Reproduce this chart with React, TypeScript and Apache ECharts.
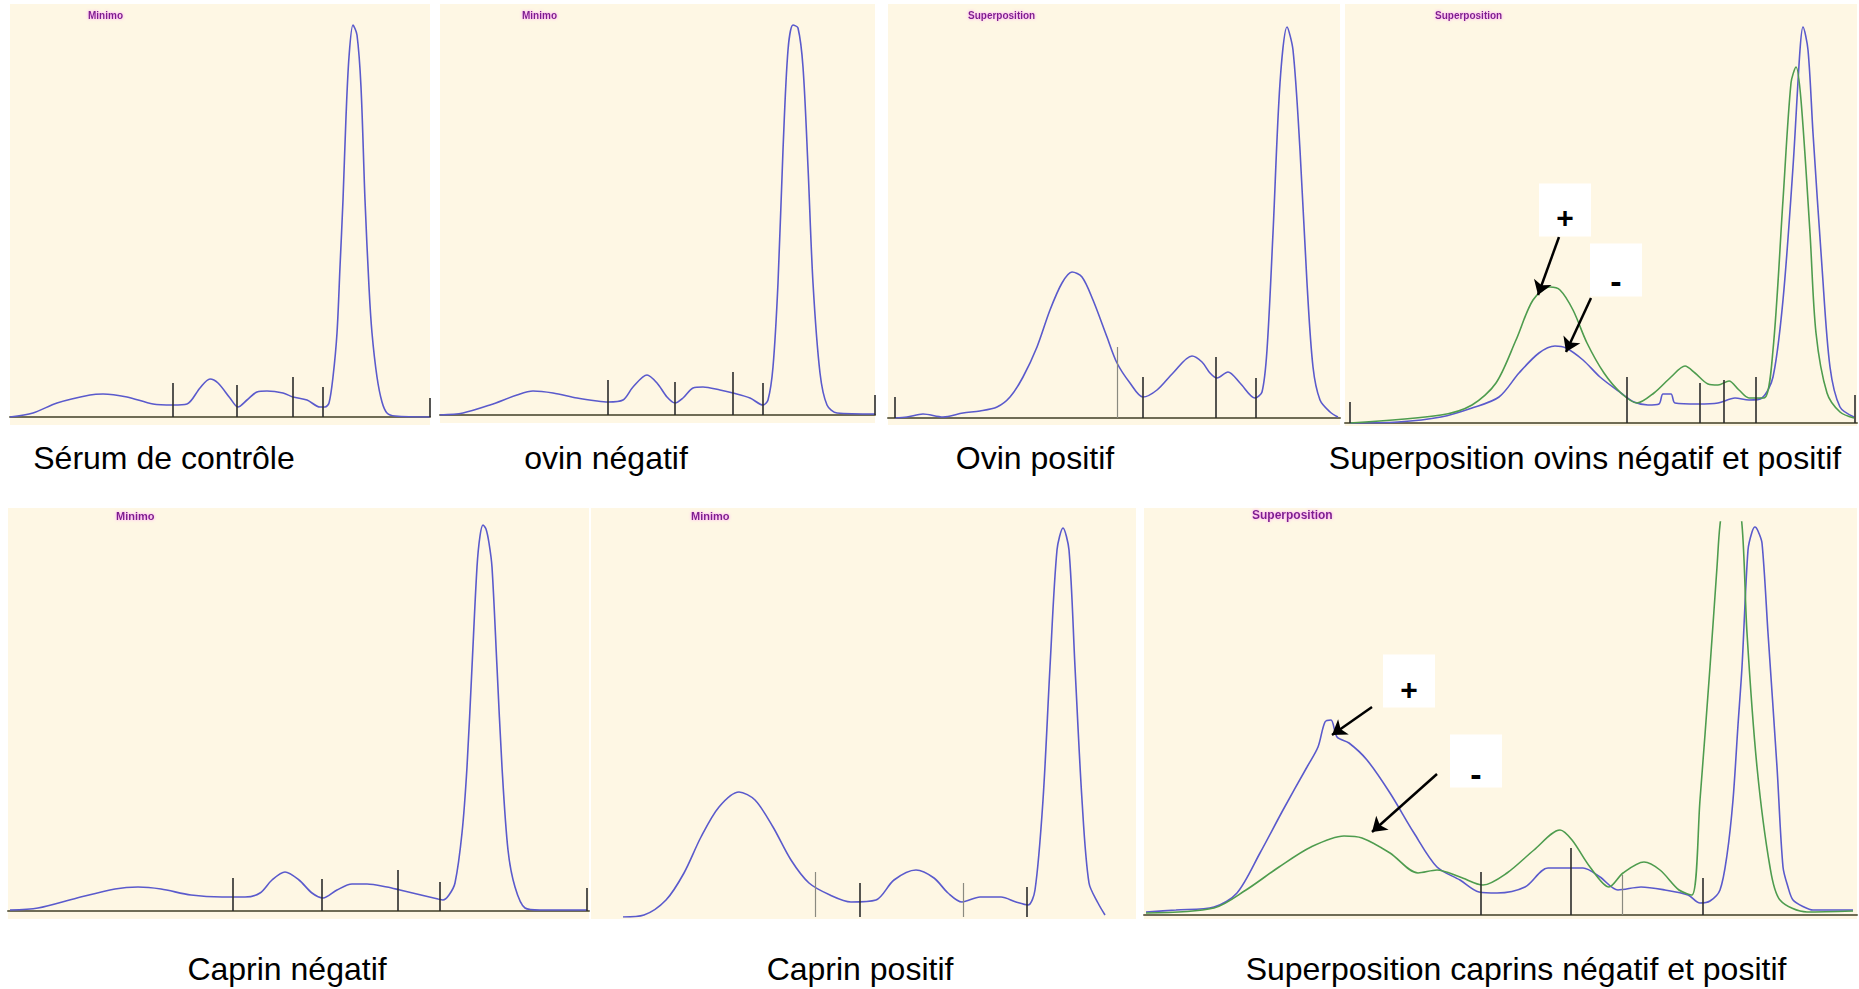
import React, { useEffect, useRef } from "react";
import * as echarts from "echarts";

type Pt = [number, number];

// x: migration (arbitrary units from the left edge of each trace), y: optical density (arbitrary units above baseline)

// Panel 1 – Sérum de contrôle
const p1Curve: Pt[] = [[0,0],[23,4],[47,14],[80,22],[93,23],[117,20],[143,13],[163,12],[177,13],[190,29],[200,38],[208,34],[220,19],[228,10],[237,17],[247,25],[257,26],[273,24],[283,20],[297,17],[310,10],[315,10],[319,14],[323,40],[327,84],[330,150],[333,217],[336,300],[339,360],[343,392],[347,382],[351,330],[355,217],[359,130],[362,84],[367,40],[372,15],[377,4],[385,1],[420,0]];
const p1MarkX = [163, 227, 283, 313, 420];
const p1MarkH = [34, 32, 40, 30, 19];

// Panel 2 – ovin négatif
const p2Curve: Pt[] = [[0,0],[23,2],[50,10],[77,20],[93,24],[113,22],[137,17],[157,14],[168,13],[183,15],[193,28],[207,40],[217,32],[227,18],[235,12],[243,17],[253,27],[263,28],[280,25],[293,22],[310,17],[323,10],[328,15],[333,48],[338,132],[343,265],[348,365],[353,390],[358,387],[363,348],[368,248],[373,132],[380,42],[387,10],[397,2],[435,1]];
const p2MarkX = [168, 235, 293, 323, 435];
const p2MarkH = [35, 33, 43, 32, 20];

// Panel 3 – Ovin positif
const p3Curve: Pt[] = [[7,0],[19,1],[35,4],[55,1],[75,5],[92,7],[109,11],[122,21],[135,41],[149,71],[162,108],[174,135],[184,146],[194,141],[205,118],[219,81],[229,55],[242,35],[255,21],[269,28],[285,45],[304,62],[314,56],[322,45],[329,40],[340,46],[352,35],[367,20],[374,26],[379,68],[385,185],[392,335],[399,391],[405,368],[412,268],[419,135],[425,51],[432,18],[442,6],[450,1]];
const p3MarkX = [229, 255, 328, 368, 7];
const p3MarkH = [71, 41, 61, 40, 21];

// Panel 4 – Superposition ovins négatif (blue) et positif (green)
const p4Neg: Pt[] = [[5,0],[53,1],[96,6],[127,15],[154,26],[174,50],[194,70],[210,77],[221,75],[238,63],[255,46],[276,30],[289,21],[303,18],[314,19],[318,29],[326,29],[330,20],[353,19],[373,20],[390,25],[404,23],[417,25],[428,46],[438,123],[448,256],[455,373],[458,396],[463,373],[468,290],[477,156],[485,56],[495,16],[509,6]];
const p4Pos: Pt[] = [[5,0],[96,8],[127,18],[151,40],[171,83],[188,123],[205,136],[215,133],[228,113],[242,80],[259,50],[276,30],[292,20],[309,30],[326,46],[340,57],[350,50],[363,39],[373,38],[384,42],[394,33],[404,25],[419,25],[428,73],[438,223],[446,340],[451,356],[456,323],[465,190],[471,90],[482,30],[495,11],[509,5]];
const p4MarkX = [282, 355, 379, 411, 5, 510];
const p4MarkH = [46, 40, 43, 46, 21, 28];
const p4PlusBox: Pt = [220, 213];
const p4PlusArrow: [Pt, Pt] = [[214, 186], [193, 128]];
const p4MinusBox: Pt = [271, 153];
const p4MinusArrow: [Pt, Pt] = [[246, 125], [221, 71]];

// Panel 5 – Caprin négatif
const p5Curve: Pt[] = [[2,1],[30,3],[69,13],[107,22],[130,24],[153,22],[183,16],[214,14],[237,14],[252,18],[264,31],[277,39],[291,31],[304,18],[315,13],[329,21],[344,27],[359,27],[379,24],[392,21],[413,16],[430,12],[435,11],[441,16],[447,28],[454,78],[459,144],[464,244],[469,344],[472,375],[475,386],[478,382],[481,368],[484,344],[489,244],[494,144],[500,61],[507,24],[517,3],[532,1],[579,1]];
const p5MarkX = [225, 314, 390, 432, 579];
const p5MarkH = [33, 32, 41, 29, 23];

// Panel 6 – Caprin positif
const p6Curve: Pt[] = [[32,0],[53,2],[75,17],[93,44],[110,80],[128,110],[148,125],[164,117],[182,90],[200,57],[218,34],[239,22],[260,15],[285,17],[303,37],[325,47],[343,39],[357,24],[371,15],[389,20],[410,20],[425,15],[437,12],[444,27],[452,117],[459,250],[466,367],[472,389],[478,367],[484,250],[491,117],[498,34],[507,14],[514,2]];
const p6MarkX = [224, 269, 372, 436];
const p6MarkH = [45, 34, 34, 30];

// Panel 7 – Superposition caprins positif (blue) et négatif (green)
const p7Pos: Pt[] = [[2,3],[32,5],[70,8],[93,22],[116,62],[139,105],[163,148],[174,168],[181,193],[187,195],[193,178],[205,172],[223,155],[246,122],[270,82],[293,48],[316,35],[335,23],[353,22],[381,28],[404,47],[439,47],[456,38],[474,25],[497,28],[521,25],[544,20],[556,12],[566,14],[576,25],[583,60],[589,115],[594,190],[598,248],[604,365],[608,383],[611,388],[614,384],[618,372],[624,282],[633,148],[639,48],[644,28],[649,15],[660,8],[669,5],[709,5]];
const p7Neg: Pt[] = [[2,2],[70,7],[102,25],[135,48],[167,68],[200,79],[218,77],[246,62],[274,42],[293,45],[316,38],[339,30],[363,42],[390,65],[416,85],[428,75],[446,48],[465,28],[479,42],[500,53],[516,45],[535,25],[548,20],[556,115],[566,248],[573,348],[576,390],[587,470],[598,390],[603,282],[613,148],[626,48],[636,15],[663,3],[709,4]];
const p7MarkX = [337, 427, 478, 559];
const p7MarkH = [43, 67, 40, 37];
const p7PlusBox: Pt = [265, 234];
const p7PlusArrow: [Pt, Pt] = [[228, 208], [188, 180]];
const p7MinusBox: Pt = [332, 154];
const p7MinusArrow: [Pt, Pt] = [[293, 141], [228, 83]];

const panelTitles = ["Minimo", "Minimo", "Superposition", "Superposition", "Minimo", "Minimo", "Superposition"];
const captions = [
  "Sérum de contrôle",
  "ovin négatif",
  "Ovin positif",
  "Superposition ovins négatif et positif",
  "Caprin négatif",
  "Caprin positif",
  "Superposition caprins négatif et positif",
];

const BLUE = "#5a5acc";
const GREEN = "#4e9c4e";
const BG = "#fef7e4";
const AXIS = "#6f6c55";
const MARK = "#2b2b2b";
const MARK_LIGHT = "#8a8a80";

interface Box { pos: Pt; sign: string; dy: number }
interface PanelDef {
  grid: { left: number; top: number; width: number; height: number };
  bg: [number, number, number, number];
  curves: { data: Pt[]; color: string }[];
  markX: number[];
  markH: number[];
  light: number[];
  baseline: boolean;
  titlePos: [number, number, number];
  capPos: [number, number];
  boxes?: Box[];
  arrows?: [Pt, Pt][];
}

const panels: PanelDef[] = [
  { grid: { left: 10, top: 7, width: 420, height: 410 }, bg: [10, 4, 420, 421], curves: [{ data: p1Curve, color: BLUE }], markX: p1MarkX, markH: p1MarkH, light: [], baseline: true, titlePos: [88, 15, 10], capPos: [164, 458] },
  { grid: { left: 440, top: 7, width: 435, height: 408 }, bg: [440, 4, 435, 419], curves: [{ data: p2Curve, color: BLUE }], markX: p2MarkX, markH: p2MarkH, light: [], baseline: true, titlePos: [522, 15, 10], capPos: [606, 458] },
  { grid: { left: 888, top: 7, width: 452, height: 411 }, bg: [888, 4, 452, 421], curves: [{ data: p3Curve, color: BLUE }], markX: p3MarkX, markH: p3MarkH, light: [0], baseline: true, titlePos: [968, 15, 10], capPos: [1035, 458] },
  { grid: { left: 1345, top: 7, width: 512, height: 416 }, bg: [1345, 4, 512, 422], curves: [{ data: p4Neg, color: BLUE }, { data: p4Pos, color: GREEN }], markX: p4MarkX, markH: p4MarkH, light: [], baseline: true, titlePos: [1435, 15, 10], capPos: [1585, 458],
    boxes: [{ pos: p4PlusBox, sign: "+", dy: 7 }, { pos: p4MinusBox, sign: "-", dy: 11 }], arrows: [p4PlusArrow, p4MinusArrow] },
  { grid: { left: 8, top: 508, width: 581, height: 403 }, bg: [8, 508, 581, 411], curves: [{ data: p5Curve, color: BLUE }], markX: p5MarkX, markH: p5MarkH, light: [], baseline: true, titlePos: [116, 516, 11], capPos: [287, 969] },
  { grid: { left: 591, top: 508, width: 545, height: 409 }, bg: [591, 508, 545, 411], curves: [{ data: p6Curve, color: BLUE }], markX: p6MarkX, markH: p6MarkH, light: [0, 2], baseline: false, titlePos: [691, 516, 11], capPos: [860, 969] },
  { grid: { left: 1144, top: 522, width: 713, height: 393 }, bg: [1144, 508, 713, 411], curves: [{ data: p7Pos, color: BLUE }, { data: p7Neg, color: GREEN }], markX: p7MarkX, markH: p7MarkH, light: [2], baseline: true, titlePos: [1252, 515, 12], capPos: [1516, 969],
    boxes: [{ pos: p7PlusBox, sign: "+", dy: 8 }, { pos: p7MinusBox, sign: "-", dy: 13 }], arrows: [p7PlusArrow, p7MinusArrow] },
];

export default function App() {
  const ref = useRef<HTMLDivElement>(null);

  useEffect(() => {
    document.body.style.margin = "0";
    document.body.style.background = "#ffffff";
    if (!ref.current) return;
    const chart = echarts.init(ref.current, undefined, { renderer: "svg" });

    const grids: any[] = [];
    const xAxes: any[] = [];
    const yAxes: any[] = [];
    const series: any[] = [];
    const graphics: any[] = [];

    panels.forEach((p, i) => {
      grids.push({ ...p.grid, containLabel: false });
      xAxes.push({
        gridIndex: i, type: "value", min: 0, max: p.grid.width,
        axisLine: { show: p.baseline, onZero: false, lineStyle: { color: AXIS, width: 2 } },
        axisTick: { show: false }, axisLabel: { show: false }, splitLine: { show: false },
      });
      yAxes.push({
        gridIndex: i, type: "value", min: 0, max: p.grid.height, show: false,
        splitLine: { show: false },
      });
      graphics.push({
        type: "rect", z: -10, silent: true,
        shape: { x: p.bg[0], y: p.bg[1], width: p.bg[2], height: p.bg[3] },
        style: { fill: BG },
      });
      graphics.push({
        type: "text", z: 50, silent: true, x: p.titlePos[0], y: p.titlePos[1],
        style: {
          text: panelTitles[i], font: `bold ${p.titlePos[2]}px "Liberation Sans", Arial, sans-serif`,
          fill: "#7d1f8f", verticalAlign: "middle", align: "left",
          textShadowColor: "rgba(255,120,255,0.8)", textShadowBlur: 3,
        },
      });
      graphics.push({
        type: "text", z: 50, silent: true, x: p.capPos[0], y: p.capPos[1],
        style: {
          text: captions[i], font: `32px "Liberation Sans", Arial, sans-serif`,
          fill: "#000000", align: "center", verticalAlign: "middle",
        },
      });

      p.curves.forEach((c, k) => {
        const s: any = {
          type: "line", xAxisIndex: i, yAxisIndex: i, data: c.data,
          showSymbol: false, symbol: "none", smooth: 0.3, clip: true,
          lineStyle: { color: c.color, width: 1.6 }, z: 3 + k, silent: true,
        };
        if (k === 0) {
          s.markLine = {
            silent: true, symbol: ["none", "none"], animation: false,
            label: { show: false },
            lineStyle: { color: MARK, width: 1.6, type: "solid" },
            data: p.markX.map((x, j) => [
              { coord: [x, 0], lineStyle: p.light.includes(j) ? { color: MARK_LIGHT, width: 1.2, type: "solid" } : { color: MARK, width: 1.6, type: "solid" } },
              { coord: [x, p.markH[j]] },
            ]),
          };
        }
        if (k === p.curves.length - 1 && p.arrows) {
          s.markLine = {
            silent: true, animation: false, symbol: ["none", "arrow"], symbolSize: 14,
            label: { show: false },
            lineStyle: { color: "#000000", width: 2.5, type: "solid" },
            data: p.arrows.map((a) => [{ coord: a[0] }, { coord: a[1] }]),
          };
        }
        if (k === p.curves.length - 1 && p.boxes) {
          s.markPoint = {
            silent: true, animation: false, symbol: "rect", symbolSize: [52, 53],
            itemStyle: { color: "#ffffff" },
            data: p.boxes.map((b) => ({
              name: b.sign, coord: b.pos,
              label: {
                show: true, position: "inside", formatter: b.sign, offset: [0, b.dy],
                color: "#000000", fontSize: b.sign === "-" ? 34 : 30, fontWeight: "bold",
                fontFamily: "Liberation Sans, Arial, sans-serif",
              },
            })),
          };
        }
        series.push(s);
      });
    });

    chart.setOption({
      animation: false,
      backgroundColor: "#ffffff",
      grid: grids,
      xAxis: xAxes,
      yAxis: yAxes,
      series,
      graphic: graphics,
    });

    return () => chart.dispose();
  }, []);

  return <div ref={ref} style={{ width: 1859, height: 989 }} />;
}
